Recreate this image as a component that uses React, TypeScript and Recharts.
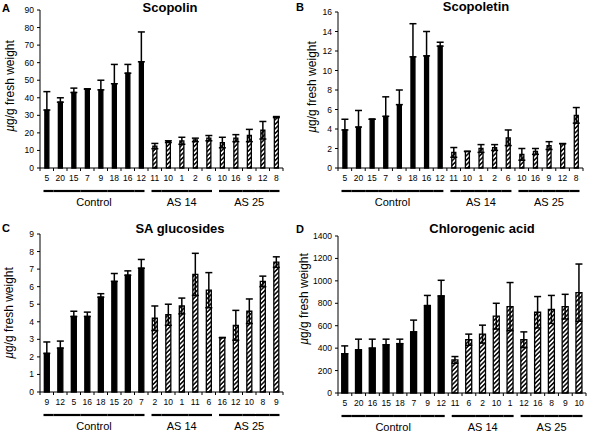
import React from 'react';
import { BarChart, Bar, XAxis, YAxis, ErrorBar, Cell } from 'recharts';

const FONT = '"Liberation Sans", Arial, Helvetica, sans-serif';

const groupNames = ['Control', 'AS 14', 'AS 25'];
const groupSizes = [8, 5, 5];

// A – Scopolin
const scopolinLabels = ['5', '20', '15', '7', '9', '18', '16', '12', '11', '10', '1', '2', '6', '10', '16', '9', '12', '8'];
const scopolinValues = [33, 37.5, 43, 45, 44.5, 48, 54, 60.5, 12.5, 15, 15.5, 16, 17, 14.5, 17, 18.5, 21.5, 29];
const scopolinErrors = [10.5, 2.5, 2.5, 0, 5.5, 11, 5, 17, 1.5, 0.5, 2, 1, 1.5, 3, 2, 3.5, 5, 0.3];
const scopolinTicks = [0, 10, 20, 30, 40, 50, 60, 70, 80, 90];

// B – Scopoletin
const scopoletinLabels = ['5', '20', '15', '7', '9', '18', '16', '12', '11', '10', '1', '2', '6', '10', '16', '9', '12', '8'];
const scopoletinValues = [3.9, 4.2, 5.0, 5.3, 6.5, 11.4, 11.5, 12.5, 1.6, 1.7, 2.0, 2.1, 3.1, 1.4, 1.7, 2.3, 2.5, 5.4];
const scopoletinErrors = [1.1, 1.7, 0, 2.0, 1.5, 3.4, 2.5, 0.4, 0.5, 0, 0.4, 0.3, 0.8, 0.6, 0.3, 0.4, 0, 0.8];
const scopoletinTicks = [0, 2, 4, 6, 8, 10, 12, 14, 16];

// C – SA glucosides
const saLabels = ['9', '12', '5', '16', '18', '15', '20', '7', '2', '10', '1', '11', '6', '16', '12', '10', '8', '9'];
const saValues = [2.2, 2.5, 4.3, 4.3, 5.4, 6.3, 6.65, 7.05, 4.2, 4.4, 4.9, 6.7, 5.8, 3.1, 3.8, 4.6, 6.3, 7.4];
const saErrors = [0.65, 0.4, 0.3, 0.25, 0.2, 0.45, 0.25, 0.5, 0.7, 0.6, 0.45, 1.2, 1.0, 0, 0.85, 0.7, 0.3, 0.3];
const saTicks = [0, 1, 2, 3, 4, 5, 6, 7, 8, 9];

// D – Chlorogenic acid
const chloroLabels = ['5', '20', '16', '15', '18', '7', '9', '12', '11', '6', '2', '10', '1', '12', '16', '8', '9', '10'];
const chloroValues = [350, 385, 400, 430, 440, 545, 780, 865, 295, 475, 525, 685, 770, 475, 720, 745, 770, 895];
const chloroErrors = [70, 95, 80, 50, 40, 105, 90, 140, 30, 50, 80, 115, 215, 70, 140, 125, 110, 255];
const chloroTicks = [0, 200, 400, 600, 800, 1000, 1200, 1400];

type Row = { label: string; value: number; err: number; group: number; errRange: number[] };

function buildRows(labels: string[], values: number[], errors: number[]): Row[] {
  const groupOf: number[] = [];
  groupSizes.forEach((s, g) => {
    for (let i = 0; i < s; i++) groupOf.push(g);
  });
  return labels.map((label, i) => ({
    label,
    value: values[i],
    err: errors[i],
    group: groupOf[i],
    // lower whisker hidden inside solid bars, visible inside hatched ones
    errRange: [groupOf[i] === 0 ? 0 : errors[i], errors[i]],
  }));
}

type PanelProps = {
  id: string;
  left: number;
  top: number;
  width: number;
  height: number;
  margin: { top: number; right: number; left: number; bottom: number };
  yWidth: number;
  xHeight: number;
  rows: Row[];
  ticks: number[];
  barGap: string;
};

function Panel({ id, left, top, width, height, margin, yWidth, xHeight, rows, ticks, barGap }: PanelProps) {
  const n = rows.length;
  const plotW = width - margin.left - margin.right - yWidth;
  const band = plotW / n;

  const renderTick = (props: any) => {
    const { x, y, index, payload } = props;
    const row = rows[index];
    if (!row) return <g />;
    const prev = rows[index - 1];
    const next = rows[index + 1];
    const first = !prev || prev.group !== row.group;
    const last = !next || next.group !== row.group;
    const count = groupSizes[row.group];
    return (
      <g>
        <line x1={x - band / 2} x2={x - band / 2} y1={y} y2={y + 3} stroke="#000" strokeWidth={1} />
        {index === n - 1 && (
          <line x1={x + band / 2} x2={x + band / 2} y1={y} y2={y + 3} stroke="#000" strokeWidth={1} />
        )}
        <text x={x} y={y + 13} textAnchor="middle" fontSize={8.5} fill="#000" fontFamily={FONT}>
          {payload.value}
        </text>
        <line
          x1={x - band / 2 + (first ? 3.5 : 0)}
          x2={x + band / 2 - (last ? 3.5 : 0)}
          y1={y + 23}
          y2={y + 23}
          stroke="#000"
          strokeWidth={2.2}
        />
        {first && (
          <text
            x={x + ((count - 1) / 2) * band}
            y={y + 38}
            textAnchor="middle"
            fontSize={11}
            fill="#000"
            fontFamily={FONT}
          >
            {groupNames[row.group]}
          </text>
        )}
      </g>
    );
  };

  return (
    <div style={{ position: 'absolute', left, top, width, height }}>
      <BarChart width={width} height={height} data={rows} margin={margin} barCategoryGap={barGap}>
        <defs>
          <pattern
            id={`hatch-${id}`}
            patternUnits="userSpaceOnUse"
            width={3.2}
            height={3.2}
            patternTransform="rotate(45)"
          >
            <rect x={0} y={0} width={3.2} height={3.2} fill="#fff" />
            <line x1={0.8} y1={0} x2={0.8} y2={3.2} stroke="#000" strokeWidth={1.5} />
          </pattern>
        </defs>
        <XAxis
          dataKey="label"
          interval={0}
          height={xHeight}
          tickSize={0}
          tickMargin={0}
          tickLine={false}
          axisLine={{ stroke: '#000', strokeWidth: 1 }}
          tick={renderTick}
        />
        <YAxis
          width={yWidth}
          domain={[ticks[0], ticks[ticks.length - 1]]}
          ticks={ticks}
          interval={0}
          tickSize={3}
          tickMargin={3}
          axisLine={{ stroke: '#000', strokeWidth: 1 }}
          tickLine={{ stroke: '#000', strokeWidth: 1 }}
          tick={{ fontSize: 8.5, fill: '#000', fontFamily: FONT }}
        />
        <Bar dataKey="value" isAnimationActive={false} stroke="#000" strokeWidth={1.3}>
          {rows.map((r, i) => (
            <Cell key={i} fill={r.group === 0 ? '#000' : `url(#hatch-${id})`} />
          ))}
          <ErrorBar dataKey="errRange" width={3.5} stroke="#000" strokeWidth={1.5} direction="y" />
        </Bar>
      </BarChart>
    </div>
  );
}

const scopolinRows = buildRows(scopolinLabels, scopolinValues, scopolinErrors);
const scopoletinRows = buildRows(scopoletinLabels, scopoletinValues, scopoletinErrors);
const saRows = buildRows(saLabels, saValues, saErrors);
const chloroRows = buildRows(chloroLabels, chloroValues, chloroErrors);

function YLabel({ x, y }: { x: number; y: number }) {
  return (
    <text
      x={x}
      y={y}
      transform={`rotate(-90 ${x} ${y})`}
      textAnchor="middle"
      fontSize={12}
      fill="#000"
      fontFamily={FONT}
    >
      <tspan fontStyle="italic">µ</tspan>g/g fresh weight
    </text>
  );
}

export default function App() {
  return (
    <div style={{ position: 'absolute', left: 0, top: 0, width: 591, height: 432, background: '#fff', fontFamily: FONT }}>
      <Panel
        id="a"
        left={0}
        top={0}
        width={295}
        height={216}
        margin={{ top: 10, right: 12, left: 0, bottom: 0 }}
        yWidth={40}
        xHeight={48}
        rows={scopolinRows}
        ticks={scopolinTicks}
        barGap="36%"
      />
      <Panel
        id="b"
        left={295}
        top={0}
        width={296}
        height={216}
        margin={{ top: 12, right: 8, left: 0, bottom: 0 }}
        yWidth={43}
        xHeight={48}
        rows={scopoletinRows}
        ticks={scopoletinTicks}
        barGap="36%"
      />
      <Panel
        id="c"
        left={0}
        top={215}
        width={295}
        height={217}
        margin={{ top: 19, right: 12, left: 0, bottom: 0 }}
        yWidth={40}
        xHeight={40}
        rows={saRows}
        ticks={saTicks}
        barGap="32%"
      />
      <Panel
        id="d"
        left={295}
        top={215}
        width={296}
        height={217}
        margin={{ top: 21, right: 5, left: 0, bottom: 0 }}
        yWidth={43}
        xHeight={39}
        rows={chloroRows}
        ticks={chloroTicks}
        barGap="27%"
      />
      <svg
        width={591}
        height={432}
        style={{ position: 'absolute', left: 0, top: 0, pointerEvents: 'none' }}
      >
        <g fontFamily={FONT} fontWeight="bold" fill="#000">
          <text x={2} y={12} fontSize={11}>A</text>
          <text x={296} y={11} fontSize={11}>B</text>
          <text x={2} y={232} fontSize={11}>C</text>
          <text x={296} y={233} fontSize={11}>D</text>
          <text x={170} y={12} fontSize={13} textAnchor="middle">Scopolin</text>
          <text x={476} y={11} fontSize={13} textAnchor="middle">Scopoletin</text>
          <text x={180} y={233} fontSize={13} textAnchor="middle">SA glucosides</text>
          <text x={482} y={233} fontSize={13} textAnchor="middle">Chlorogenic acid</text>
        </g>
        <YLabel x={14} y={86} />
        <YLabel x={316} y={87} />
        <YLabel x={13} y={313} />
        <YLabel x={308} y={299} />
      </svg>
    </div>
  );
}
